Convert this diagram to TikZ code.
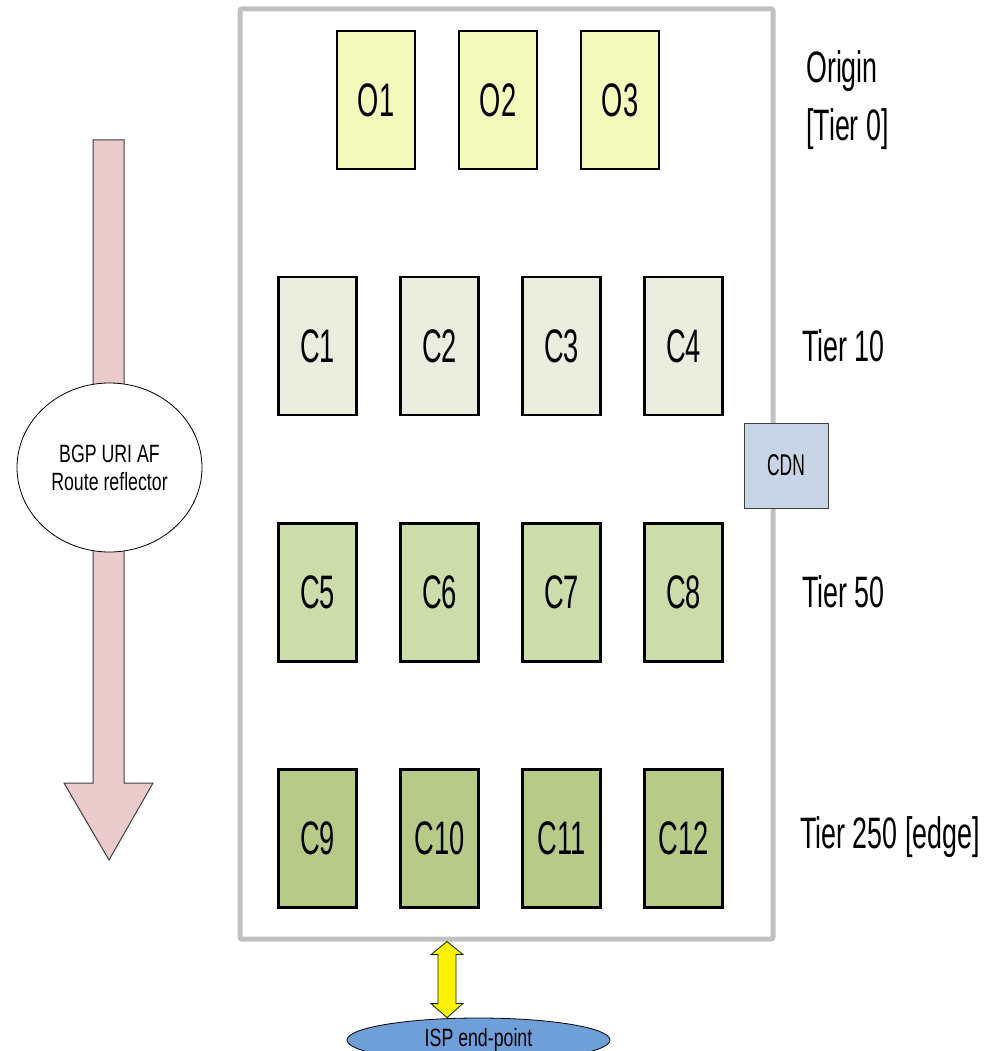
\documentclass[tikz,border=0pt]{standalone}
\usepackage{fontspec}
\setmainfont{Liberation Sans}
\newfontfamily\bigf[FakeStretch=0.58]{Liberation Sans}
\newfontfamily\labf[FakeStretch=0.61]{Liberation Sans}
\newfontfamily\smallf[FakeStretch=0.71]{Liberation Sans}
\usetikzlibrary{shapes.geometric}
\definecolor{ofill}{HTML}{F2F9BA}
\definecolor{tenfill}{HTML}{EBEEDE}
\definecolor{fiftyfill}{HTML}{CCDCAA}
\definecolor{edgefill}{HTML}{B7CA88}
\definecolor{framegray}{HTML}{C0C0C0}
\definecolor{arrowpink}{HTML}{EBCBCB}
\definecolor{cdnfill}{HTML}{C8D5E6}
\definecolor{ispfill}{HTML}{6F9FD8}
\tikzset{
  rack/.style={draw=black, line width=2.5pt, minimum width=78pt, minimum height=138pt, inner sep=0pt, font=\bigf\fontsize{47}{50}\selectfont},
  tierlabel/.style={anchor=west, align=left, inner sep=0pt, font=\labf\fontsize{44}{58}\selectfont},
  smalltext/.style={font=\smallf\fontsize{25}{30}\selectfont},
}
\begin{document}
\begin{tikzpicture}[x=1pt,y=-1pt]
\useasboundingbox (0,0) rectangle (994,1051);
\clip (0,0) rectangle (994,1051);
% big downward arrow
\draw[fill=arrowpink, draw=black!75, line width=1pt] (93,140) -- (124,140) -- (124,783) -- (153,783) -- (109,860) -- (64,783) -- (93,783) -- cycle;
\node[ellipse, draw=black, line width=0.8pt, fill=white, minimum width=185pt, minimum height=169pt, align=center, smalltext, inner sep=0pt] (bgp) at (109.5,467.5) {BGP URI AF\\[-2pt]Route reflector};
% frame
\draw[framegray, line width=5pt, rounded corners=2pt] (240,9) rectangle (773,939);
\coordinate (framebottom) at (447,941.5);
% origin
\node[rack, fill=ofill] (O1) at (376,100) {O1};
\node[rack, fill=ofill] (O2) at (498,100) {O2};
\node[rack, fill=ofill] (O3) at (620,100) {O3};
% tier 10
\node[rack, fill=tenfill] (C1) at (317.5,346) {C1};
\node[rack, fill=tenfill] (C2) at (439.5,346) {C2};
\node[rack, fill=tenfill] (C3) at (561.5,346) {C3};
\node[rack, fill=tenfill] (C4) at (683.5,346) {C4};
% tier 50
\node[rack, fill=fiftyfill] (C5) at (317.5,592.5) {C5};
\node[rack, fill=fiftyfill] (C6) at (439.5,592.5) {C6};
\node[rack, fill=fiftyfill] (C7) at (561.5,592.5) {C7};
\node[rack, fill=fiftyfill] (C8) at (683.5,592.5) {C8};
% tier 250
\node[rack, fill=edgefill] (C9) at (317.5,838.5) {C9};
\node[rack, fill=edgefill] (C10) at (439.5,838.5) {C10};
\node[rack, fill=edgefill] (C11) at (561.5,838.5) {C11};
\node[rack, fill=edgefill] (C12) at (683.5,838.5) {C12};
% CDN
\node[draw=black!75, line width=1pt, fill=cdnfill, minimum width=84pt, minimum height=85pt, inner sep=0pt, font=\bigf\fontsize{30}{34}\selectfont] (cdn) at (786,465.5) {CDN};
% tier labels
\node[tierlabel] (lorigin) at (806,100) {Origin\\{}[Tier 0]};
\node[tierlabel] (l10) at (802,346) {Tier 10};
\node[tierlabel] (l50) at (802,592) {Tier 50};
\node[tierlabel] (l250) at (800,837) {Tier 250 [edge]};
% ISP end-point
\node[ellipse, draw=black, line width=0.8pt, fill=ispfill, minimum width=263pt, minimum height=44pt, inner sep=0pt, smalltext] (isp) at (478.5,1040) {ISP end-point};
% yellow double arrow
\draw[fill=yellow, draw=black!60!green!40!black, line width=0.8pt]
  (framebottom) -- ++(16,13) -- ++(-7,0) -- ++(0,49) -- ++(7,0) -- (isp.north -| framebottom) -- ++(-16,-14) -- ++(7,0) -- ++(0,-49) -- ++(-7,0) -- cycle;
\end{tikzpicture}
\end{document}
